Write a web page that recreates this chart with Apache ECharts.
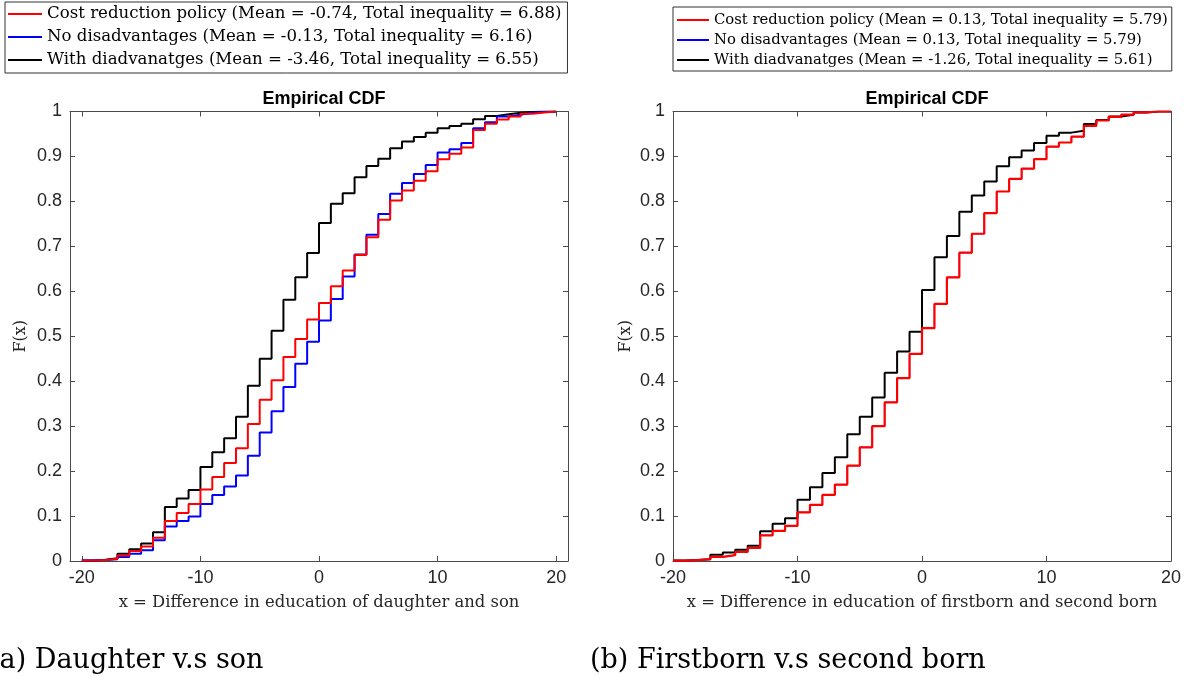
<!DOCTYPE html>
<html><head><meta charset="utf-8">
<script src="https://cdn.jsdelivr.net/npm/echarts@6/dist/echarts.min.js"></script>
<style>html,body{margin:0;padding:0;background:#fff}#c{width:1194px;height:683px}</style>
</head><body><div id="c"></div>
<script>
// Integer support points of the empirical CDFs
const xValues = [-20,-19,-18,-17,-16,-15,-14,-13,-12,-11,-10,-9,-8,-7,-6,-5,-4,-3,-2,-1,0,1,2,3,4,5,6,7,8,9,10,11,12,13,14,15,16,17,18,19,20];
const xTickValues = [-20,-10,0,10,20];

// (a) Daughter v.s son
const leftNames = [
  'Cost reduction policy (Mean = -0.74, Total inequality = 6.88)',
  'No disadvantages (Mean = -0.13, Total inequality = 6.16)',
  'With diadvanatges (Mean = -3.46, Total inequality = 6.55)'
];
const leftCost = [0.001,0.002,0.005,0.012,0.022,0.032,0.052,0.089,0.107,0.127,0.159,0.187,0.218,0.251,0.305,0.359,0.402,0.454,0.494,0.537,0.574,0.611,0.646,0.681,0.720,0.759,0.802,0.824,0.846,0.867,0.894,0.906,0.920,0.959,0.973,0.982,0.989,0.995,0.998,1,1];
const leftNoDis = [0.001,0.002,0.004,0.009,0.016,0.024,0.046,0.077,0.089,0.099,0.127,0.147,0.166,0.190,0.234,0.286,0.333,0.387,0.439,0.488,0.535,0.583,0.633,0.682,0.726,0.772,0.817,0.841,0.861,0.881,0.909,0.916,0.930,0.963,0.976,0.989,0.993,0.997,0.999,1,1];
const leftWithDis = [0.001,0.003,0.006,0.016,0.026,0.039,0.064,0.120,0.139,0.158,0.209,0.242,0.273,0.321,0.390,0.450,0.512,0.581,0.631,0.685,0.752,0.795,0.818,0.854,0.879,0.895,0.918,0.933,0.943,0.953,0.963,0.968,0.973,0.983,0.990,0.994,0.997,0.999,1,1,1];

// (b) Firstborn v.s second born
const rightNames = [
  'Cost reduction policy (Mean = 0.13, Total inequality = 5.79)',
  'No disadvantages (Mean = 0.13, Total inequality = 5.79)',
  'With diadvanatges (Mean = -1.26, Total inequality = 5.61)'
];
const rightCost = [0.001,0.002,0.004,0.009,0.013,0.020,0.029,0.057,0.067,0.078,0.108,0.125,0.147,0.170,0.212,0.253,0.300,0.353,0.407,0.461,0.518,0.572,0.631,0.686,0.728,0.774,0.822,0.850,0.873,0.894,0.922,0.931,0.944,0.968,0.980,0.988,0.993,0.998,1,1,1];
const rightNoDis = [0.001,0.002,0.004,0.009,0.013,0.020,0.029,0.057,0.067,0.078,0.108,0.125,0.147,0.170,0.212,0.253,0.300,0.353,0.407,0.461,0.518,0.572,0.631,0.686,0.728,0.774,0.822,0.850,0.873,0.894,0.922,0.931,0.944,0.968,0.980,0.988,0.993,0.998,1,1,1];
const rightWithDis = [0.001,0.002,0.004,0.014,0.019,0.025,0.034,0.066,0.083,0.095,0.136,0.164,0.196,0.231,0.282,0.321,0.364,0.419,0.466,0.510,0.603,0.676,0.723,0.777,0.813,0.844,0.878,0.898,0.913,0.930,0.946,0.953,0.957,0.972,0.981,0.989,0.993,0.998,1,1,1];

const titleText = 'Empirical CDF';
const yName = 'F(x)';
const leftXName = 'x = Difference in education of daughter and son';
const rightXName = 'x = Difference in education of firstborn and second born';
const leftCaption = '(a) Daughter v.s son';
const rightCaption = '(b) Firstborn v.s second born';

const AX = '#4a4a4a', TXT = '#262626';
const SANS = 'Liberation Sans, Arial, Helvetica, sans-serif';
const SERIF = 'DejaVu Serif, serif';

function pairs(arr){ return xValues.map((x,i)=>[x, arr[i]]); }

function xAxes(grid, min, max, name){
  return [
    { type:'value', gridIndex:grid, position:'bottom', min:min, max:max,
      name:name, nameLocation:'middle', nameGap:34,
      nameTextStyle:{fontFamily:SERIF, fontSize:16.4, color:TXT},
      axisLine:{show:true, onZero:false, lineStyle:{color:AX, width:1}},
      axisTick:{show:true, inside:true, length:5, lineStyle:{color:AX}, customValues:xTickValues},
      axisLabel:{show:true, margin:8, fontFamily:SANS, fontSize:18, color:TXT, customValues:xTickValues},
      splitLine:{show:false} },
    { type:'value', gridIndex:grid, position:'top', min:min, max:max,
      axisLine:{show:true, onZero:false, lineStyle:{color:AX, width:1}},
      axisTick:{show:true, inside:true, length:5, lineStyle:{color:AX}, customValues:xTickValues},
      axisLabel:{show:false, customValues:xTickValues},
      splitLine:{show:false} }
  ];
}
function yAxes(grid, gap){
  return [
    { type:'value', gridIndex:grid, position:'left', min:0, max:1, interval:0.1,
      name:yName, nameLocation:'middle', nameGap:gap,
      nameTextStyle:{fontFamily:SERIF, fontSize:16, color:TXT},
      axisLine:{show:true, onZero:false, lineStyle:{color:AX, width:1}},
      axisTick:{show:true, inside:true, length:5, lineStyle:{color:AX}},
      axisLabel:{show:true, margin:8, fontFamily:SANS, fontSize:18, color:TXT},
      splitLine:{show:false} },
    { type:'value', gridIndex:grid, position:'right', min:0, max:1, interval:0.1,
      axisLine:{show:true, onZero:false, lineStyle:{color:AX, width:1}},
      axisTick:{show:true, inside:true, length:5, lineStyle:{color:AX}},
      axisLabel:{show:false},
      splitLine:{show:false} }
  ];
}
function line(name, data, color, xi, yi, w){
  return { type:'line', name:name, data:pairs(data), step:'end', symbol:'none', showSymbol:false,
    xAxisIndex:xi, yAxisIndex:yi, color:color, itemStyle:{color:color},
    lineStyle:{color:color, width:w || 2}, emphasis:{disabled:true}, animation:false, z:2 };
}

const chart = echarts.init(document.getElementById('c'), null, {renderer:'canvas'});
chart.setOption({
  backgroundColor:'#ffffff',
  animation:false,
  title:[
    {text:titleText, left:319, top:85, textAlign:'center', textStyle:{fontFamily:SANS, fontWeight:'bold', fontSize:18, color:'#000'}},
    {text:titleText, left:922, top:85, textAlign:'center', textStyle:{fontFamily:SANS, fontWeight:'bold', fontSize:18, color:'#000'}}
  ],
  legend:[
    { data:leftNames, orient:'vertical', left:5, top:2, padding:[2,6,3,3], itemGap:3,
      itemWidth:34, itemHeight:2, icon:'rect', borderColor:'#333', borderWidth:1, backgroundColor:'#fff',
      selectedMode:false,
      textStyle:{fontFamily:SERIF, fontSize:16.6, lineHeight:20, color:'#000'} },
    { data:rightNames, orient:'vertical', left:673, top:7, padding:[4,4,2,4], itemGap:2,
      itemWidth:32, itemHeight:2, icon:'rect', borderColor:'#333', borderWidth:1, backgroundColor:'#fff',
      selectedMode:false,
      textStyle:{fontFamily:SERIF, fontSize:14.8, lineHeight:18, color:'#000'} }
  ],
  grid:[
    {left:70, top:111.5, width:498, height:449.5, containLabel:false},
    {left:673, top:111.5, width:498, height:449.5, containLabel:false}
  ],
  xAxis: xAxes(0, -21, 21, leftXName).concat(xAxes(1, -20, 20, rightXName)),
  yAxis: yAxes(0, 41).concat(yAxes(1, 39)),
  series:[
    line(leftNames[2], leftWithDis, '#000000', 0, 0),
    line(leftNames[1], leftNoDis, '#0000ff', 0, 0),
    line(leftNames[0], leftCost, '#ff0000', 0, 0),
    line(rightNames[2], rightWithDis, '#000000', 2, 2),
    line(rightNames[1], rightNoDis, '#0000ff', 2, 2, 1.2),
    line(rightNames[0], rightCost, '#ff0000', 2, 2, 2.2)
  ],
  graphic:[
    {type:'text', left:-11, top:647, style:{text:leftCaption, font:'27px ' + SERIF, fill:'#000'}},
    {type:'text', left:590, top:647, style:{text:rightCaption, font:'27px ' + SERIF, fill:'#000'}}
  ]
});
</script>
</body></html>
